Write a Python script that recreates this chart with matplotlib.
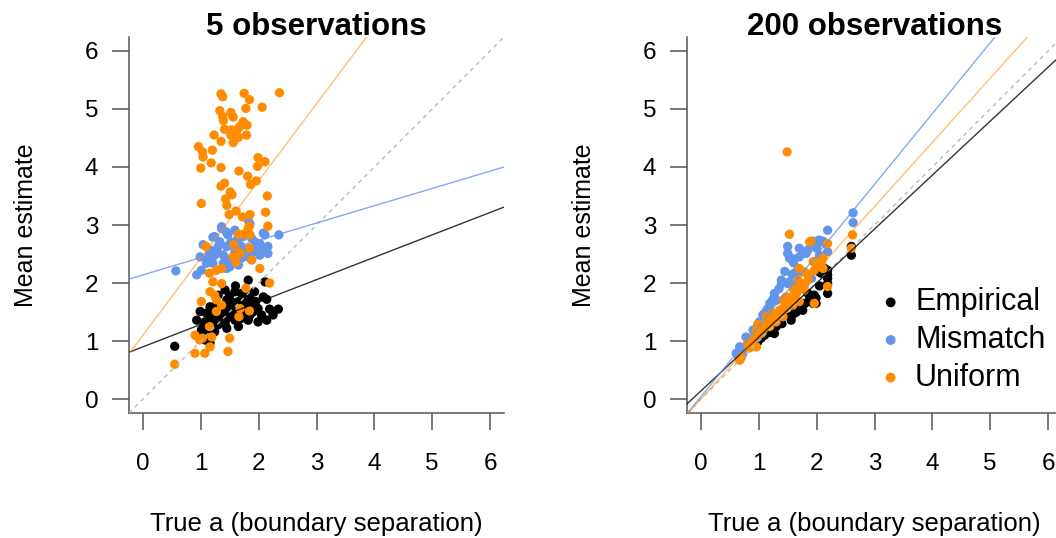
import matplotlib
matplotlib.use("Agg")
import matplotlib.pyplot as plt
import numpy as np

plt.rcParams['font.family'] = ['Liberation Sans', 'DejaVu Sans']

# ---------------- data ----------------
groups = ["Empirical", "Mismatch", "Uniform"]
colors = ["#000000", "#6495ED", "#FF8C00"]
titles = ["5 observations", "200 observations"]
ticks = [0, 1, 2, 3, 4, 5, 6]

# Left panel (5 observations)
emp5_x = [1.82, 2.11, 1.42, 1.59, 1.70, 1.85, 1.93, 2.08, 2.14, 1.30, 1.16, 1.27, 1.45, 1.53, 1.65, 1.76,
          1.88, 1.99, 2.19, 2.34, 0.99, 1.10, 1.21, 1.39, 1.50, 1.62, 1.73, 1.85, 0.93, 1.07, 1.21, 1.33,
          1.45, 1.59, 1.70, 1.82, 1.99, 2.14, 1.16, 1.30, 1.45, 1.65, 1.01, 1.10, 1.24, 0.96, 1.07, 1.16,
          0.55, 1.13, 1.42, 1.35, 1.55, 1.68, 1.25, 1.40, 1.95, 1.78, 1.05, 1.55, 1.30, 2.05, 1.60, 1.50,
          1.18, 1.48, 1.62, 1.75, 1.90, 2.25]
emp5_y = [2.05, 2.02, 1.88, 1.85, 1.82, 1.79, 1.85, 1.76, 1.72, 1.79, 1.59, 1.62, 1.71, 1.68, 1.68, 1.71,
          1.65, 1.56, 1.55, 1.55, 1.51, 1.48, 1.53, 1.53, 1.51, 1.53, 1.48, 1.45, 1.36, 1.33, 1.36, 1.42,
          1.39, 1.36, 1.39, 1.36, 1.33, 1.36, 1.25, 1.28, 1.22, 1.25, 1.19, 1.13, 1.16, 1.07, 1.02, 0.96,
          0.91, 1.33, 1.30, 1.60, 1.58, 1.58, 1.45, 1.45, 1.68, 1.60, 1.25, 1.45, 1.50, 1.45, 1.95, 1.78,
          1.42, 1.62, 1.62, 1.55, 1.50, 1.45]

mis5_x = [1.36, 1.21, 1.47, 1.62, 1.73, 1.88, 2.02, 2.16, 2.11, 2.35, 1.04, 1.16, 1.30, 1.45, 1.59, 1.76,
          1.91, 2.02, 2.16, 0.99, 1.13, 1.24, 1.39, 1.53, 1.70, 1.82, 1.96, 1.10, 1.21, 1.39, 1.50, 1.01,
          0.93, 1.45, 0.57, 1.33, 1.65, 1.88, 2.08, 1.36, 1.44, 1.59, 1.82, 1.85, 2.08, 1.24, 1.28, 1.52,
          1.68, 1.15, 1.42, 1.95]
mis5_y = [2.97, 2.79, 2.83, 2.74, 2.80, 2.77, 2.68, 2.63, 2.83, 2.83, 2.66, 2.57, 2.63, 2.63, 2.54, 2.57,
          2.54, 2.48, 2.51, 2.45, 2.43, 2.48, 2.48, 2.43, 2.43, 2.45, 2.60, 2.34, 2.34, 2.34, 2.28, 2.22,
          2.14, 2.25, 2.21, 2.71, 2.31, 2.40, 2.57, 2.94, 2.88, 2.91, 3.08, 3.02, 2.86, 2.80, 2.55, 2.70,
          2.65, 2.50, 2.40, 2.70]

uni5_x = [1.35, 1.38, 1.75, 1.84, 2.36, 1.78, 2.06, 1.33, 1.52, 1.38, 1.56, 1.39, 1.73, 1.68, 1.53, 1.41,
          1.63, 1.80, 1.23, 1.52, 1.65, 1.79, 1.35, 1.56, 0.96, 1.03, 1.20, 1.04, 1.18, 1.35, 1.99, 2.11,
          1.98, 1.00, 1.66, 1.81, 1.35, 1.41, 1.96, 1.86, 1.51, 1.54, 1.43, 2.15, 1.01, 1.45, 1.61, 1.49,
          2.12, 1.72, 1.85, 1.84, 2.16, 1.65, 1.73, 1.85, 1.57, 1.84, 1.68, 1.61, 1.15, 1.27, 1.36, 2.02,
          1.21, 1.36, 2.19, 1.78, 1.16, 1.24, 1.01, 1.27, 1.36, 1.27, 1.68, 1.84, 1.66, 1.15, 0.90, 1.03,
          1.19, 1.50, 0.98, 1.16, 0.90, 1.07, 1.47, 0.55, 1.59, 1.88, 1.56, 1.09, 1.82]
uni5_y = [5.26, 5.21, 5.27, 5.16, 5.28, 5.01, 5.03, 4.97, 4.94, 4.87, 4.86, 4.80, 4.78, 4.70, 4.64, 4.65,
          4.64, 4.72, 4.55, 4.55, 4.51, 4.55, 4.44, 4.42, 4.35, 4.26, 4.29, 4.17, 4.07, 3.99, 4.16, 4.09,
          4.01, 3.98, 3.93, 3.84, 3.67, 3.72, 3.76, 3.70, 3.57, 3.52, 3.45, 3.50, 3.37, 3.34, 3.24, 3.18,
          3.22, 3.14, 3.18, 2.98, 2.98, 2.84, 2.84, 2.83, 2.66, 2.60, 2.51, 2.36, 2.17, 2.22, 2.25, 2.25,
          2.02, 1.99, 2.00, 1.91, 1.85, 1.79, 1.68, 1.71, 1.62, 1.51, 1.56, 1.52, 1.42, 1.25, 1.10, 1.05,
          1.07, 1.05, 1.02, 0.90, 0.79, 0.79, 0.82, 0.60, 2.63, 2.40, 2.45, 2.63, 2.94]

# Right panel (200 observations)
emp200_x = [2.60, 2.60, 2.05, 2.14, 2.19, 2.19, 2.19, 1.88, 1.96, 1.99, 1.73, 1.56, 1.27, 2.08, 2.19, 2.19,
            1.94, 1.99, 1.70, 1.76, 1.85, 1.56, 1.30, 1.04, 1.13, 1.47, 0.98, 1.40, 1.65, 1.20,
            1.80, 1.90, 2.05, 1.62, 1.35, 1.10]
emp200_y = [2.63, 2.48, 2.19, 2.25, 2.14, 2.08, 1.82, 1.76, 1.79, 1.74, 1.56, 1.36, 1.13, 2.17, 2.22, 1.99,
            1.65, 1.65, 1.56, 1.53, 1.82, 1.42, 1.25, 1.05, 1.16, 1.45, 0.98, 1.30, 1.50, 1.15,
            1.65, 1.70, 1.95, 1.48, 1.30, 1.10]

mis200_x = [2.63, 2.63, 2.19, 2.04, 2.11, 1.94, 1.70, 1.50, 1.53, 1.82, 2.19, 1.56, 1.79, 2.05, 1.50, 1.85,
            1.96, 2.08, 2.16, 1.68, 1.76, 1.62, 1.39, 1.50, 1.27, 1.19, 1.10, 1.04, 0.98, 0.87, 0.81, 0.73,
            0.64, 1.39, 1.53, 1.65, 1.79, 1.91, 1.27, 1.24, 1.19, 1.07, 1.01, 0.90, 0.78, 0.67, 0.61,
            1.45, 1.35, 1.15, 1.60, 1.70, 2.00, 1.30, 0.95, 1.12, 1.58]
mis200_y = [3.21, 3.04, 2.91, 2.74, 2.72, 2.72, 2.60, 2.51, 2.43, 2.51, 2.54, 2.43, 2.51, 2.48, 2.63, 2.57,
            2.68, 2.71, 2.68, 2.25, 2.19, 2.17, 2.05, 1.99, 1.76, 1.65, 1.42, 1.25, 1.07, 1.02, 0.90, 0.79,
            0.76, 1.99, 2.02, 1.94, 1.97, 2.08, 1.82, 1.71, 1.59, 1.45, 1.33, 1.19, 1.07, 0.90, 0.79,
            2.20, 1.90, 1.55, 2.35, 2.45, 2.60, 1.70, 1.20, 1.50, 2.15]

uni200_x = [1.49, 1.53, 2.62, 2.60, 1.90, 2.19, 2.11, 1.96, 1.94, 2.08, 1.70, 1.79, 1.96, 2.11, 1.68, 1.73,
            1.79, 1.65, 1.56, 1.47, 1.42, 1.70, 1.59, 1.47, 1.36, 1.24, 1.13, 1.42, 1.30, 1.19, 1.01, 0.96,
            1.04, 0.90, 0.96, 0.84, 0.67, 1.88, 2.19, 1.96, 0.98, 1.35, 1.55, 1.25, 1.85, 1.60,
            1.50, 1.62, 1.75, 1.85, 1.40, 1.20, 1.08, 0.92, 1.30, 2.00, 1.66, 1.52, 1.10, 0.80, 0.70, 1.45]
uni200_y = [4.26, 2.84, 2.83, 2.60, 2.72, 2.68, 2.43, 2.37, 2.37, 2.34, 2.25, 2.19, 2.22, 2.25, 2.05, 1.99,
            1.88, 1.82, 1.76, 1.76, 1.71, 1.68, 1.62, 1.56, 1.53, 1.48, 1.42, 1.42, 1.33, 1.25, 1.28, 1.19,
            1.13, 1.02, 0.90, 0.88, 0.67, 2.71, 1.94, 1.65, 1.28, 1.45, 1.65, 1.35, 2.05, 1.90,
            1.60, 1.75, 1.95, 2.15, 1.55, 1.35, 1.20, 1.08, 1.45, 2.30, 1.85, 1.72, 1.30, 0.95, 0.72, 1.60]

# fitted regression lines (intercept, slope) per group
fit5_intercept = [0.90, 2.14, 1.10]
fit5_slope = [0.386, 0.298, 1.33]
fit200_intercept = [0.14, 0.04, 0.00]
fit200_slope = [0.93, 1.22, 1.106]

panels = [
    ([emp5_x, mis5_x, uni5_x], [emp5_y, mis5_y, uni5_y], fit5_intercept, fit5_slope),
    ([emp200_x, mis200_x, uni200_x], [emp200_y, mis200_y, uni200_y], fit200_intercept, fit200_slope),
]

# ---------------- figure ----------------
W, H = 1056, 538
fig = plt.figure(figsize=(W / 100, H / 100), dpi=100)
axcol = "#555555"
line_alpha = [0.8, 0.8, 0.55]

lefts = [129, 687]
for k, (xs, ys, icpt, slp) in enumerate(panels):
    ax = fig.add_axes([lefts[k] / W, (H - 413) / H, 375 / W, 376 / H])
    ax.set_xlim(-0.24, 6.24)
    ax.set_ylim(-0.24, 6.24)
    for g in range(3):
        ax.scatter(xs[g], ys[g], s=45, color=colors[g], edgecolors='none', zorder=3, label=groups[g])
    ax.axline((0, 0), slope=1, color="#BBBBBB", lw=1.0, ls=(0, (3, 3)), zorder=4)
    for g in range(3):
        ax.axline((0, icpt[g]), slope=slp[g], color=colors[g], lw=1.0, alpha=line_alpha[g], zorder=5)

    ax.spines['top'].set_visible(False)
    ax.spines['right'].set_visible(False)
    for s in ('left', 'bottom'):
        ax.spines[s].set_color(axcol)
        ax.spines[s].set_linewidth(1.1)
    ax.set_xticks(ticks)
    ax.set_yticks(ticks)
    ax.set_xticklabels([str(t) for t in ticks])
    ax.set_yticklabels([str(t) for t in ticks])
    ax.tick_params(axis='both', direction='out', length=12.2, width=1.1, color=axcol,
                   labelsize=17.5, labelcolor='black')
    ax.tick_params(axis='x', pad=16.5)
    ax.tick_params(axis='y', pad=10)

    ax.set_title(titles[k], fontsize=22.5, fontweight='bold', y=1.0053, pad=0)
    ax.set_xlabel("True a (boundary separation)", fontsize=18.5)
    ax.set_ylabel("Mean estimate", fontsize=18)
    ax.xaxis.set_label_coords(0.5, -0.2633)
    ax.yaxis.set_label_coords(-0.2427, 0.5)

    if k == 1:
        ax.legend(loc='center left', bbox_to_anchor=(875.4 / W, (H - 340) / H),
                  bbox_transform=fig.transFigure, frameon=False, fontsize=22,
                  handlelength=1.0, handletextpad=0.3, labelspacing=0.25,
                  borderpad=0, borderaxespad=0, markerscale=1.05, scatterpoints=1)

fig.savefig("out.png", dpi=100)
